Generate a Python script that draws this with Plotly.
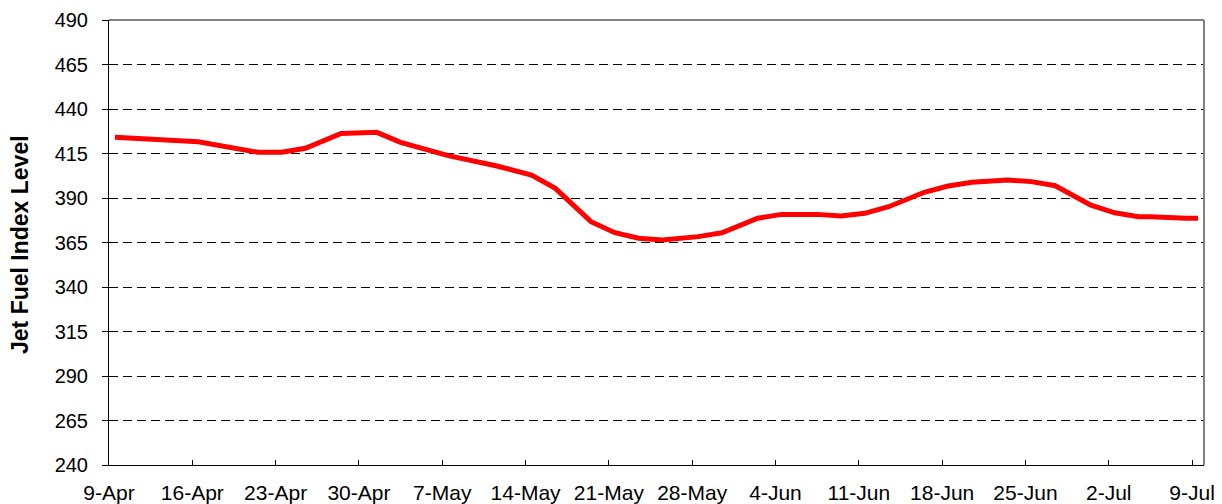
import pandas as pd
import plotly.graph_objects as go

dates = ["2007-04-09", "2007-04-16", "2007-04-21", "2007-04-23", "2007-04-25", "2007-04-28",
         "2007-05-01", "2007-05-03", "2007-05-07", "2007-05-11", "2007-05-14", "2007-05-16",
         "2007-05-19", "2007-05-21", "2007-05-23", "2007-05-25", "2007-05-28", "2007-05-30",
         "2007-06-02", "2007-06-04", "2007-06-07", "2007-06-09", "2007-06-11", "2007-06-13",
         "2007-06-16", "2007-06-18", "2007-06-20", "2007-06-23", "2007-06-25", "2007-06-27",
         "2007-06-30", "2007-07-02", "2007-07-04", "2007-07-05", "2007-07-08", "2007-07-09"]
index_level = [424.1, 421.6, 415.7, 415.7, 417.9, 426.3,
               426.9, 421.3, 413.8, 408.1, 402.9, 395.4,
               376.7, 370.5, 367.4, 366.4, 368.3, 370.5,
               378.6, 380.8, 380.8, 379.9, 381.4, 385.1,
               393.2, 396.7, 398.8, 400.1, 399.2, 396.9,
               386.0, 381.7, 379.5, 379.5, 378.6, 378.6]
y_ticks = [240, 265, 290, 315, 340, 365, 390, 415, 440, 465, 490]
y_title = "Jet Fuel Index Level"

# Excel-style date axis: each point sits in the middle of its day slot
x_vals = pd.to_datetime(dates) + pd.Timedelta(hours=12)

FONT = "Liberation Sans, Arial, sans-serif"

fig = go.Figure()
fig.add_trace(go.Scatter(x=x_vals, y=index_level, mode="lines",
                         line=dict(color="#FF0000", width=5), showlegend=False))

fig.update_layout(
    width=1214, height=496,
    margin=dict(l=101, r=18, t=12, b=39),
    paper_bgcolor="white", plot_bgcolor="white",
    font=dict(family=FONT, size=20, color="black"),
    xaxis=dict(
        range=["2007-04-09", "2007-07-10"],
        tick0="2007-04-09", dtick=7 * 86400000,
        tickformat="%-d-%b",
        showgrid=False, zeroline=False, automargin=False,
        showline=True, linecolor="black", linewidth=1,
        ticks="inside", ticklen=5, tickcolor="black",
        ticklabelstandoff=9,
        tickfont=dict(family=FONT, size=21),
    ),
    yaxis=dict(
        range=[240, 490], tickvals=y_ticks,
        showgrid=True, gridcolor="black", gridwidth=1, griddash="9px,5px",
        zeroline=False, automargin=False,
        showline=True, linecolor="black", linewidth=1,
        ticks="outside", ticklen=6, tickcolor="black",
        ticklabelstandoff=10,
        tickfont=dict(family=FONT, size=20),
    ),
    annotations=[
        dict(text="<b>" + y_title + "</b>", xref="paper", yref="paper",
             x=-0.0813, y=0.4966, xanchor="center", yanchor="middle",
             textangle=-90, showarrow=False,
             font=dict(family=FONT, size=23, color="black")),
    ],
    shapes=[
        dict(type="line", xref="paper", yref="paper", x0=0, x1=1, y0=1, y1=1,
             line=dict(color="#808080", width=2)),
        dict(type="line", xref="paper", yref="paper", x0=1, x1=1, y0=0, y1=1,
             line=dict(color="#808080", width=2)),
    ],
)

fig.write_html("out.html")
